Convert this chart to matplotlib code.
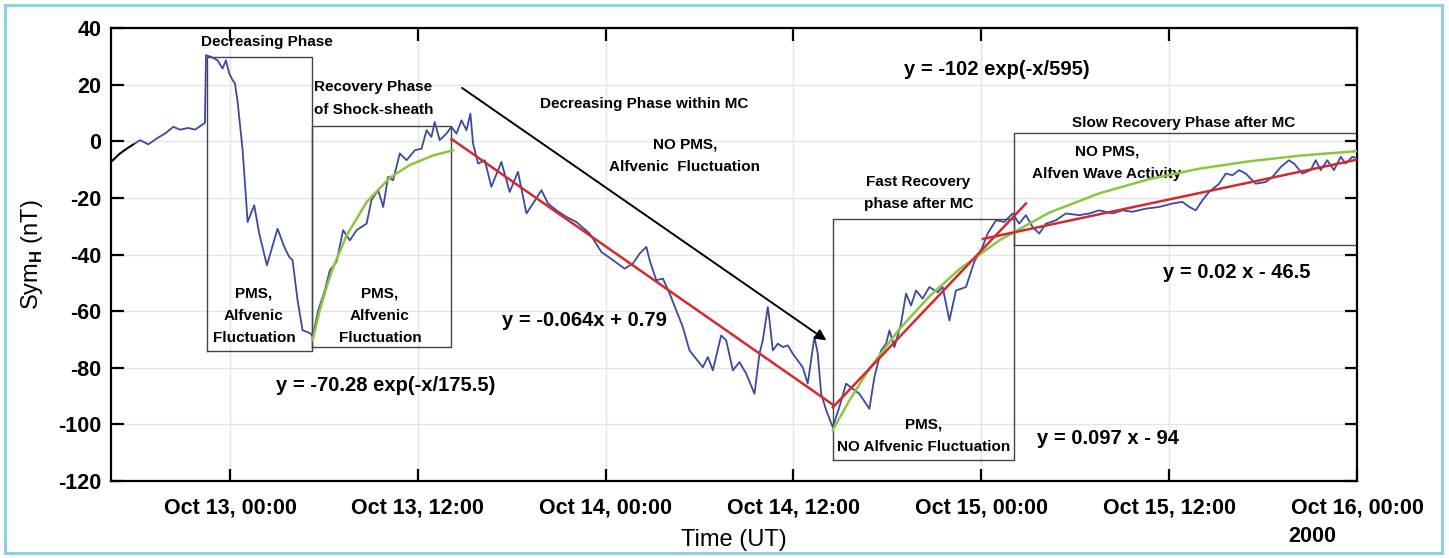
import matplotlib.pyplot as plt
import matplotlib.dates as mdates
import pandas as pd
from matplotlib.patches import Rectangle

plt.rcParams['font.family'] = ['Liberation Sans', 'DejaVu Sans']
plt.rcParams['mathtext.fontset'] = 'custom'
plt.rcParams['mathtext.rm'] = 'Liberation Sans'
plt.rcParams['mathtext.bf'] = 'Liberation Sans:bold'
plt.rcParams['axes.unicode_minus'] = False

T0 = pd.Timestamp('2000-10-13 00:00')

# Sym-H index, hours after Oct 13 00:00 UT
symh_hours = [
    -7.60, -7.02, -6.59, -6.17, -5.74, -5.21, -4.68, -4.15, -3.62, -3.19,
    -2.66, -2.23, -1.91, -1.60, -1.53, -1.21, -0.79, -0.47, -0.26, -0.04,
    0.17, 0.32, 0.49, 0.81, 1.13, 1.55, 1.87, 2.36, 3.04, 3.47,
    3.79, 4.00, 4.32, 4.64, 4.96, 5.17, 5.28, 5.64, 6.06, 6.38,
    6.81, 7.23, 7.66, 8.09, 8.73, 9.04, 9.47, 9.79, 10.10, 10.42,
    10.85, 11.28, 11.81, 12.24, 12.56, 12.87, 13.08, 13.40, 13.83, 14.15,
    14.47, 14.79, 15.11, 15.36, 15.53, 15.85, 16.28, 16.70, 17.34, 17.87,
    18.40, 18.94, 19.36, 19.90, 20.32, 20.86, 21.49, 22.13, 22.98, 23.73,
    24.47, 25.21, 25.74, 26.17, 26.60, 26.81, 27.24, 27.66, 28.09, 28.93,
    29.36, 30.21, 30.53, 30.85, 31.38, 31.70, 32.13, 32.55, 32.98, 33.51,
    33.83, 34.04, 34.36, 34.47, 34.68, 35.00, 35.32, 35.64, 35.95, 36.27,
    36.59, 36.91, 37.34, 37.55, 37.77, 38.09, 38.51, 38.93, 39.36, 39.79,
    40.21, 40.85, 41.17, 41.60, 41.92, 42.13, 42.45, 42.87, 43.19, 43.51,
    43.83, 44.25, 44.68, 45.21, 45.53, 45.74, 45.96, 46.38, 47.02, 47.55,
    48.08, 48.40, 48.94, 49.47, 50.00, 50.42, 50.85, 51.28, 51.70, 52.13,
    52.77, 53.40, 54.26, 54.89, 55.53, 56.38, 57.02, 57.66, 58.51, 59.36,
    60.21, 60.85, 61.28, 61.70, 62.13, 62.55, 63.19, 63.62, 64.04, 64.47,
    64.89, 65.53, 66.17, 66.60, 67.13, 67.66, 67.98, 68.51, 69.04, 69.36,
    69.68, 70.10, 70.53, 70.96, 71.28, 71.70, 72.00,
]
symh_nt = [
    -7.3, -4.3, -2.6, -1.1, 0.4, -1.1, 1.0, 2.7, 5.1, 4.1,
    4.7, 4.1, 5.3, 6.5, 30.4, 29.8, 28.6, 25.7, 28.6, 23.9,
    21.6, 20.4, 13.9, -3.2, -28.5, -22.6, -32.6, -43.8, -30.9, -37.3,
    -40.9, -42.0, -56.2, -66.8, -67.4, -68.0, -69.1, -59.7, -52.7, -45.6,
    -42.6, -31.4, -35.0, -31.4, -29.1, -20.8, -17.3, -23.2, -12.6, -13.8,
    -4.3, -6.7, -3.2, -2.6, 3.9, 1.5, 6.8, 0.4, 2.7, 5.1,
    2.7, 7.4, 3.9, 9.8, -0.8, -7.9, -6.7, -16.1, -7.3, -17.9,
    -10.8, -25.5, -22.0, -17.3, -22.0, -24.4, -26.7, -28.5, -32.6, -39.1,
    -42.0, -45.0, -43.2, -39.7, -37.3, -42.0, -49.1, -48.5, -53.8, -65.6,
    -73.9, -79.8, -76.2, -80.9, -68.6, -70.3, -80.9, -78.0, -82.1, -89.2,
    -75.0, -70.3, -58.6, -63.3, -73.9, -71.5, -72.7, -72.1, -75.0, -77.4,
    -79.8, -85.6, -69.1, -75.0, -89.2, -95.0, -101.0, -93.9, -85.6, -87.4,
    -89.2, -94.5, -83.3, -73.9, -71.5, -66.8, -72.7, -64.4, -53.8, -58.0,
    -52.7, -55.6, -51.5, -53.3, -51.5, -57.3, -63.3, -52.7, -51.5, -42.6,
    -37.3, -32.6, -27.9, -28.5, -25.5, -29.1, -26.1, -30.3, -32.6, -29.1,
    -27.9, -25.5, -26.1, -25.5, -24.4, -25.5, -24.4, -24.9, -23.8, -23.2,
    -22.0, -21.4, -23.2, -24.4, -20.8, -17.9, -15.0, -11.4, -12.0, -10.2,
    -11.4, -15.0, -14.4, -12.6, -9.1, -6.7, -7.9, -11.4, -10.2, -6.7,
    -10.2, -6.7, -10.2, -5.5, -7.9, -5.5, -6.0,
]

# fitted curves
exp1_hours = [5.28, 5.74, 6.17, 6.59, 7.45, 8.73, 10.21, 11.49, 12.98, 14.25]
exp1_nt = [-70.3, -59.6, -51.6, -44.6, -33.3, -21.5, -12.9, -8.4, -5.0, -3.2]
exp2_hours = [38.51, 39.57, 40.85, 42.76, 44.68, 46.60, 49.15, 52.34, 55.53,
              58.72, 61.91, 65.10, 68.30, 72.00]
exp2_nt = [-102.0, -91.6, -80.3, -66.4, -54.8, -45.2, -35.0, -25.2, -18.4,
           -13.4, -9.7, -7.1, -5.1, -3.5]
lin1_hours = [14.15, 38.51]
lin1_nt = [0.8, -93.0]
lin2_hours = [38.51, 50.85]
lin2_nt = [-94.0, -22.0]
lin3_hours = [48.10, 72.00]
lin3_nt = [-34.5, -6.5]


def tx(h):
    return mdates.date2num(T0 + pd.to_timedelta(h, unit='h'))


fig = plt.figure(figsize=(14.49, 5.58), dpi=100)
ax = fig.add_axes([0.0766, 0.138, 0.8599, 0.8118])

fig.patches.append(Rectangle((0.0035, 0.009), 0.9917, 0.982, transform=fig.transFigure,
                             fill=False, edgecolor='#8ecfe3', lw=2.2))

navy = '#3a4aa0'
green = '#8cc63e'
red = '#d42a2f'

ax.plot(tx(symh_hours), symh_nt, color=navy, lw=1.3, zorder=3)
ax.plot(tx(symh_hours[:4]), symh_nt[:4], color='k', lw=1.3, zorder=3)
ax.plot(tx(exp1_hours), exp1_nt, color=green, lw=1.8, zorder=4)
ax.plot(tx(exp2_hours), exp2_nt, color=green, lw=1.8, zorder=4)
ax.plot(tx(lin1_hours), lin1_nt, color=red, lw=1.8, zorder=4)
ax.plot(tx(lin2_hours), lin2_nt, color=red, lw=1.8, zorder=4)
ax.plot(tx(lin3_hours), lin3_nt, color=red, lw=1.8, zorder=4)

# phase boxes
box_kw = dict(color='#444444', lw=1.0, zorder=2)
def box(h0, h1, v0, v1):
    ax.plot(tx([h0, h1, h1, h0, h0]), [v0, v0, v1, v1, v0], **box_kw)

box(-1.49, 5.21, -74.2, 29.8)
box(5.21, 14.09, -72.7, 5.3)
box(38.51, 50.11, -112.5, -27.6)
box(50.11, 72.0, -36.7, 3.0)

ax.annotate('', xy=(tx(38.25), -70.9), xytext=(tx(14.68), 19.4),
            arrowprops=dict(arrowstyle='-|>', color='k', lw=1.4, mutation_scale=16))

small = dict(fontsize=11, fontweight='bold', ha='center', va='center', linespacing=1.75)
eq = dict(fontsize=14.5, fontweight='bold', ha='center', va='center')

ax.text(tx(2.33), 35.1, 'Decreasing Phase', **small)
ax.text(tx(5.36), 15.1, 'Recovery Phase\nof Shock-sheath',
        **{**small, 'ha': 'left', 'multialignment': 'left'})
ax.text(tx(1.53), -61.6, 'PMS,\nAlfvenic\nFluctuation', **small)
ax.text(tx(9.58), -61.6, 'PMS,\nAlfvenic\nFluctuation', **small)
ax.text(tx(26.47), 13.1, 'Decreasing Phase within MC', **small)
ax.text(tx(29.07), -5.25, 'NO PMS,\nAlfvenic  Fluctuation', **small)
ax.text(tx(43.98), -18.2, 'Fast Recovery\nphase after MC', **small)
ax.text(tx(44.34), -104.0, 'PMS,\nNO Alfvenic Fluctuation', **small)
ax.text(tx(60.91), 6.5, 'Slow Recovery Phase after MC', **small)
ax.text(tx(56.02), -7.6, 'NO PMS,\nAlfven Wave Activity', **small)

ax.text(tx(49.0), 25.3, 'y = -102 exp(-x/595)', **eq)
ax.text(tx(64.33), -46.3, 'y = 0.02 x - 46.5', **eq)
ax.text(tx(56.1), -105.0, 'y = 0.097 x - 94', **eq)
ax.text(tx(22.66), -63.3, 'y = -0.064x + 0.79', **eq)
ax.text(tx(9.97), -86.2, 'y = -70.28 exp(-x/175.5)', **eq)

ax.set_xlim(tx(-7.6), tx(72.0))
ax.set_ylim(-120, 40)
ax.set_yticks(range(-120, 41, 20))
ax.xaxis.set_major_locator(mdates.HourLocator(byhour=[0, 12]))
ax.xaxis.set_major_formatter(mdates.DateFormatter('%b %d, %H:%M'))

ax.grid(True, color='#e4e4e4', lw=1.0)
ax.set_axisbelow(True)
for s in ax.spines.values():
    s.set_linewidth(1.6)
ax.tick_params(direction='in', top=True, right=True, length=9, width=1.6,
               labelsize=15.5)
ax.tick_params(axis='x', pad=12)
ax.tick_params(axis='y', pad=7)
for lab in ax.get_xticklabels() + ax.get_yticklabels():
    lab.set_fontweight('bold')

ax.set_xlabel('Time (UT)', fontsize=17)
ax.xaxis.set_label_coords(0.5, -0.13)
ax.xaxis.label.set_va('center')
ax.set_ylabel('Sym$_{\\mathbf{H}}$ (nT)', fontsize=17)
ax.yaxis.set_label_coords(-0.063, 0.5)
ax.yaxis.label.set_va('center')

ax.text(tx(67.6), -139.5, '2000', fontsize=15.5, fontweight='bold',
        ha='left', va='center', clip_on=False)

fig.savefig('out.png', dpi=100)
